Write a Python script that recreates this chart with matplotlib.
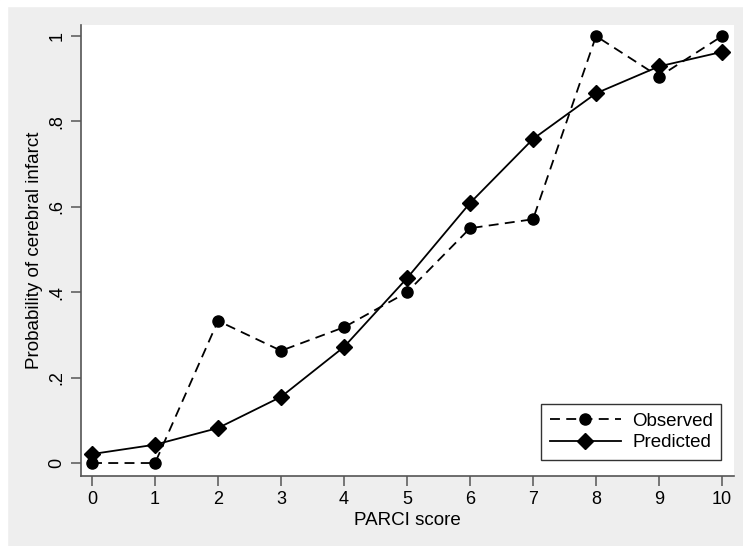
import matplotlib.pyplot as plt
from matplotlib.patches import Rectangle

plt.rcParams['font.family'] = ['Liberation Sans', 'DejaVu Sans']

# PARCI score vs probability
scores = [0, 1, 2, 3, 4, 5, 6, 7, 8, 9, 10]
observed = [0.0, 0.0, 0.333, 0.263, 0.318, 0.40, 0.55, 0.571, 1.0, 0.905, 1.0]
predicted = [0.021, 0.043, 0.082, 0.155, 0.272, 0.433, 0.609, 0.759, 0.866, 0.929, 0.963]
y_ticks = [0, 0.2, 0.4, 0.6, 0.8, 1.0]
y_tick_labels = ['0', '.2', '.4', '.6', '.8', '1']

W, H = 743, 546
fig = plt.figure(figsize=(W / 100, H / 100), dpi=100, facecolor='#eeeeee')

# thin white border left / top as in the exported image
for (x0, y0, w, h) in [(0, 0, 7, H), (0, H - 6, W, 6)]:
    fig.patches.append(Rectangle((x0 / W, y0 / H), w / W, h / H,
                                 transform=fig.transFigure, color='white', zorder=0))

ax = fig.add_axes([81 / W, 1 - 476 / H, (734 - 81) / W, (476 - 25) / H])
ax.set_facecolor('white')

ax.plot(scores, observed, color='black', linestyle=(0, (5.5, 3.5)), linewidth=1.3,
        marker='o', markersize=8, label='Observed')
ax.plot(scores, predicted, color='black', linestyle='-', linewidth=1.3,
        marker='D', markersize=8, label='Predicted')

ax.set_xlim(-0.175, 10.19)
ax.set_ylim(-0.0304, 1.026)
ax.set_xticks(scores)
ax.set_yticks(y_ticks)
ax.set_yticklabels(y_tick_labels, rotation=90, va='center')

for s in ['top', 'right']:
    ax.spines[s].set_visible(False)
for s in ['left', 'bottom']:
    ax.spines[s].set_color('#555555')
    ax.spines[s].set_linewidth(1.2)
ax.tick_params(direction='out', length=7, width=1.1, color='#555555',
               labelsize=13, pad=4)

ax.set_xlabel('PARCI score', fontsize=13.5, labelpad=3)
ax.set_ylabel('Probability of cerebral infarct', fontsize=13.5, labelpad=4)

leg = ax.legend(loc='lower right', bbox_to_anchor=(0.995, 0.015), fontsize=13.5,
                handlelength=3.8, frameon=True, fancybox=False,
                borderpad=0.45, labelspacing=0.25, handletextpad=0.6)
leg.get_frame().set_edgecolor('black')
leg.get_frame().set_linewidth(1.0)

fig.savefig('out.png', dpi=100, facecolor=fig.get_facecolor())
